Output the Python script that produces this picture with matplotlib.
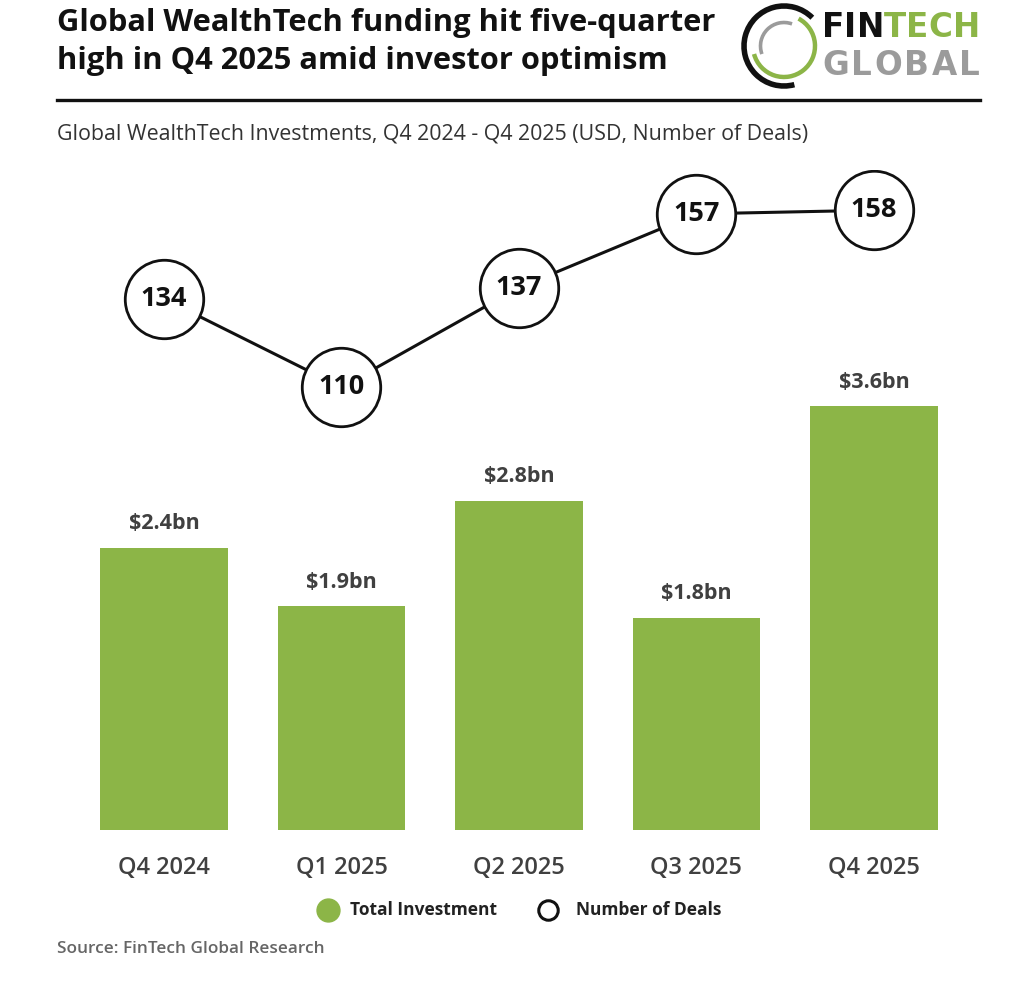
import matplotlib
matplotlib.use("Agg")
import matplotlib.pyplot as plt
from matplotlib.patches import Arc
from matplotlib.lines import Line2D

categories = ["Q4 2024", "Q1 2025", "Q2 2025", "Q3 2025", "Q4 2025"]
investment_bn = [2.4, 1.9, 2.8, 1.8, 3.6]
deals = [134, 110, 137, 157, 158]

GREEN = "#8cb547"
GRAY_LOGO = "#9b9b9b"
FONT = "Open Sans"
plt.rcParams["font.family"] = [FONT, "DejaVu Sans"]

W, H = 1024, 986
fig = plt.figure(figsize=(W / 100, H / 100), dpi=100)
fig.patch.set_facecolor("white")

def fx(px):
    return px / W

def fy(py):
    return 1 - py / H

# main axes: pixel x 50..990, y 170..830
ax = fig.add_axes([fx(50), fy(830), fx(990) - fx(50), (830 - 170) / H])
x = list(range(len(categories)))
ax.bar(x, investment_bn, width=0.72, color=GREEN, zorder=1)
ax.set_xlim(-0.642, 4.654)
ax.set_ylim(0, 5.61)
for xi, v in zip(x, investment_bn):
    ax.annotate(f"${v}bn", (xi, v), xytext=(0, 10), textcoords="offset points",
                ha="center", va="bottom", fontsize=15.5, fontweight="bold", color="#404040")
ax.set_xticks(x)
ax.set_xticklabels(categories, fontsize=17, color="#404040", fontweight="semibold")
ax.tick_params(axis="x", length=0, pad=18.5)
ax.set_yticks([])
for s in ax.spines.values():
    s.set_visible(False)

ax2 = ax.twinx()
ax2.set_ylim(-10, 168.9)
ax2.plot(x, deals, color="#111111", lw=2.2, marker="o", markersize=56.5,
         markerfacecolor="white", markeredgecolor="#111111", markeredgewidth=2.0, zorder=3)
for xi, d in zip(x, deals):
    ax2.text(xi, d, str(d), ha="center", va="center", fontsize=19.5,
             fontweight="bold", color="#111111", zorder=4)
ax2.set_yticks([])
for s in ax2.spines.values():
    s.set_visible(False)

# title
fig.text(fx(57), fy(23), "Global WealthTech funding hit five-quarter", ha="left", va="center",
         fontsize=22.2, fontweight="bold", color="#111111")
fig.text(fx(57), fy(61), "high in Q4 2025 amid investor optimism", ha="left", va="center",
         fontsize=22.2, fontweight="bold", color="#111111")
fig.add_artist(Line2D([fx(57), fx(980)], [fy(100), fy(100)], color="#111111", lw=2.4))
fig.text(fx(57), fy(134), "Global WealthTech Investments, Q4 2024 - Q4 2025 (USD, Number of Deals)",
         ha="left", va="center", fontsize=15.4, color="#333333")

# logo rings
lax = fig.add_axes([fx(734), fy(96), 100 / W, 100 / H])
lax.set_xlim(-50, 50)
lax.set_ylim(-50, 50)
lax.axis("off")
lax.add_patch(Arc((0, 0), 80, 80, theta1=45, theta2=285, color="#111111", lw=4.0, clip_on=False))
lax.add_patch(Arc((0, 0), 62, 62, theta1=195, theta2=62, color=GREEN, lw=3.2, clip_on=False))
lax.add_patch(Arc((0, 0), 47, 47, theta1=70, theta2=200, color=GRAY_LOGO, lw=2.6, clip_on=False))

# logo words, letter-spaced to the logo width
renderer = fig.canvas.get_renderer()

def spaced_word(parts, x0_px, x1_px, y_px, size):
    letters = []
    for word, color in parts:
        for ch in word:
            letters.append((ch, color))
    texts = []
    widths = []
    for ch, color in letters:
        t = fig.text(0, fy(y_px), ch, ha="left", va="center_baseline", fontsize=size,
                     fontweight="bold", color=color, family=["DejaVu Sans"])
        widths.append(t.get_window_extent(renderer).width)
        texts.append(t)
    gap = (x1_px - x0_px - sum(widths)) / (len(letters) - 1)
    pos = x0_px
    for t, w in zip(texts, widths):
        t.set_x(fx(pos))
        pos += w + gap

spaced_word([("FIN", "#111111"), ("TECH", GREEN)], 822, 980, 24, 23.5)
spaced_word([("GLOBAL", GRAY_LOGO)], 822, 980, 62, 23.5)

# legend
fig.add_artist(Line2D([fx(328)], [fy(910)], marker="o", markersize=16.5, color=GREEN, linestyle="none"))
fig.text(fx(350), fy(910), "Total Investment", ha="left", va="center", fontsize=12.5,
         fontweight="bold", color="#222222")
fig.add_artist(Line2D([fx(548)], [fy(910)], marker="o", markersize=14, markerfacecolor="white",
                      markeredgecolor="#111111", markeredgewidth=2.2, linestyle="none"))
fig.text(fx(576), fy(910), "Number of Deals", ha="left", va="center", fontsize=12.5,
         fontweight="bold", color="#222222")

fig.text(fx(57), fy(949), "Source: FinTech Global Research", ha="left", va="center",
         fontsize=12.4, fontweight="semibold", color="#666666")

fig.savefig("out.png", dpi=100)
